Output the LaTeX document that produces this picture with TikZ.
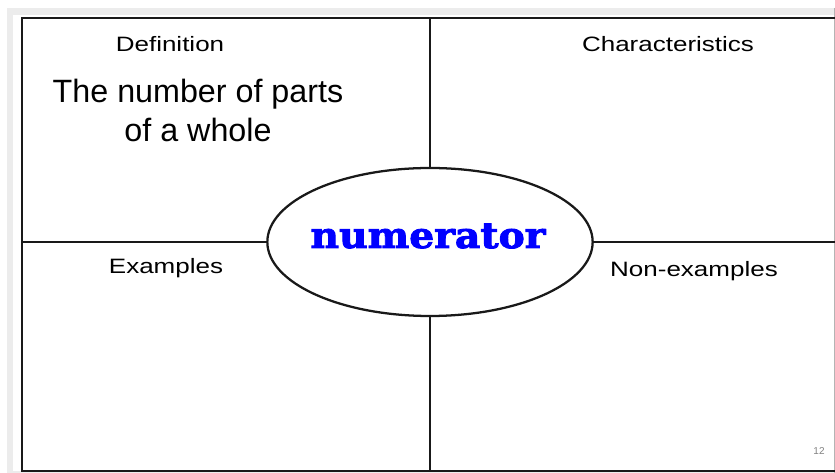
\documentclass[tikz,border=0pt]{standalone}
\usepackage{fontspec}
\usepackage{xcolor}
\usepackage{tikz}
\usetikzlibrary{shapes,positioning}
\setmainfont{Liberation Sans}
\newfontfamily\labelfont[FakeStretch=1.25]{Liberation Sans}
\newfontfamily\termfont[FakeStretch=1.1,FakeBold=2.5]{DejaVu Serif}
\definecolor{slide}{RGB}{236,236,236}
\definecolor{termblue}{RGB}{0,0,255}
\definecolor{pagenum}{RGB}{130,130,130}

\begin{document}
\begin{tikzpicture}[
  x=0.75pt,y=-0.75pt,
  frame/.style={line width=2pt,black!90},
  box/.style={anchor=base,inner sep=0pt,font=\labelfont\fontsize{15.6}{18}\selectfont,black},
  defn/.style={anchor=base,inner sep=0pt,font=\fontsize{24.2}{28}\selectfont},
  term/.style={ellipse,draw=black!90,line width=1.7pt,fill=white,minimum width=244pt,minimum height=111pt,inner sep=0pt}
]
\useasboundingbox (0,0) rectangle (835,473);
% slide background
\fill[white] (0,0) rectangle (835,473);
\fill[slide] (7,8) rectangle (835,473);
\fill[white] (13,15) rectangle (834,471);
\draw[pagenum!60,line width=0.6pt] (834,8) -- (834,473);
% corners of the chart
\coordinate (tl) at (22,18);
\coordinate (bl) at (22,471);
\coordinate (tr) at (835,18);
\coordinate (br) at (835,471);
\coordinate (top) at (430,18);
\coordinate (bot) at (430,471);
\coordinate (left) at (22,242);
\coordinate (right) at (835,242);
\draw[frame] (tr) -- (tl) -- (bl) -- (br);
\node[term] (word) at (430,242) {};
\draw[frame] (top) -- (word.north);
\draw[frame] (word.south) -- (bot);
\draw[frame] (left) -- (word.west);
\draw[frame] (word.east) -- (right);
\node[anchor=base,inner sep=0pt,font=\termfont\bfseries\fontsize{26.8}{30}\selectfont,text=termblue] (wordtxt) at (428,248) {numerator};
% quadrant titles
\node[box] (defhead) at (170,52) {Definition};
\node[box] (charhead) at (668,52) {Characteristics};
\node[box] (exhead) at (166,274) {Examples};
\node[box] (nonhead) at (694,277) {Non-examples};
% definition text
\node[defn] (def1) at (198,103) {The number of parts};
\node[defn] (def2) at (198,142) {of a whole};
\node[anchor=base,inner sep=0pt,font=\fontsize{7.5}{9}\selectfont,text=pagenum] (pgno) at (819,455) {12};
\end{tikzpicture}
\end{document}
